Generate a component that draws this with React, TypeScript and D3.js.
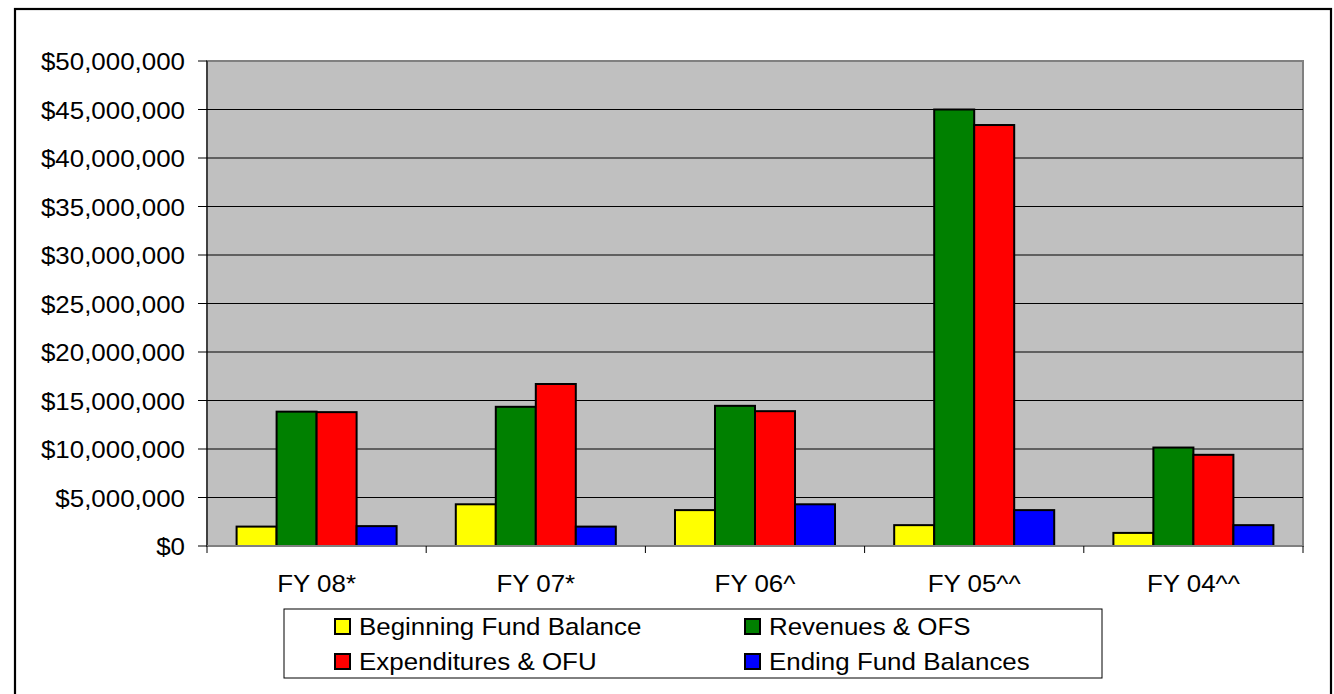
import * as d3 from 'd3'
import React from 'react'

const categories = ['FY 08*', 'FY 07*', 'FY 06^', 'FY 05^^', 'FY 04^^']
const seriesNames = ['Beginning Fund Balance', 'Revenues & OFS', 'Expenditures & OFU', 'Ending Fund Balances']
const seriesColors = ['#FFFF00', '#008000', '#FF0000', '#0000FF']
const beginning = [2000000, 4300000, 3700000, 2150000, 1350000]
const revenues = [13850000, 14350000, 14450000, 45000000, 10150000]
const expenditures = [13800000, 16700000, 13900000, 43400000, 9400000]
const ending = [2050000, 2000000, 4300000, 3700000, 2150000]
const yTicks = [0, 5000000, 10000000, 15000000, 20000000, 25000000, 30000000, 35000000, 40000000, 45000000, 50000000]

const W = 1334, H = 694
const font = '"Liberation Sans", Arial, sans-serif'
const FS = 24
const SX = 1.08

const Label = ({ x, y, anchor, children }: { x: number, y: number, anchor: string, children: string }) => (
  <text transform={`translate(${x},${y}) scale(${SX},1)`} textAnchor={anchor}
    fontFamily={font} fontSize={FS} fill='#000'>{children}</text>
)

export default function App() {
  const
    values = [beginning, revenues, expenditures, ending],
    left = 207, right = 1303, top = 61, bottom = 546,
    x0 = d3.scaleBand<string>().domain(categories).range([left, right]).paddingInner(0.27).paddingOuter(0.135),
    x1 = d3.scaleBand<string>().domain(seriesNames).range([0, x0.bandwidth()]),
    y = d3.scaleLinear().domain([0, 50000000]).range([bottom, top]),
    step = (right - left) / categories.length,
    fmt = (v: number) => '$' + d3.format(',')(v),
    legendCols = [334, 744], legendRows = [618, 653]

  return (
    <svg width={W} height={H} style={{ position: 'absolute', left: 0, top: 0, background: '#fff' }}>
      <rect x={15} y={9} width={1316} height={H + 20} fill='#fff' stroke='#000' strokeWidth={2.2} />
      <rect x={left} y={top} width={right - left} height={bottom - top} fill='#C0C0C0' stroke='#808080' strokeWidth={2} />
      {yTicks.filter(t => t > 0 && t < 50000000).map(t => (
        <line key={t} x1={left} x2={right} y1={y(t)} y2={y(t)} stroke='#000' strokeWidth={1} />
      ))}
      {categories.map((c, i) => values.map((s, j) => (
        <rect key={c + j} x={x0(c)! + x1(seriesNames[j])!} y={y(s[i])} width={x1.bandwidth()}
          height={y(0) - y(s[i])} fill={seriesColors[j]} stroke='#000' strokeWidth={2} />
      )))}
      <line x1={left} x2={left} y1={top} y2={bottom} stroke='#000' strokeWidth={1} />
      <line x1={left} x2={right} y1={bottom} y2={bottom} stroke='#808080' strokeWidth={2} />
      {yTicks.map(t => (
        <g key={t}>
          <line x1={left - 9} x2={left} y1={y(t)} y2={y(t)} stroke='#000' strokeWidth={1} />
          <Label x={185} y={y(t) + 9} anchor='end'>{fmt(t)}</Label>
        </g>
      ))}
      {d3.range(categories.length + 1).map(i => (
        <line key={i} x1={left + i * step} x2={left + i * step} y1={bottom} y2={bottom + 7} stroke='#000' strokeWidth={1} />
      ))}
      {categories.map(c => (
        <Label key={c} x={x0(c)! + x0.bandwidth() / 2} y={592} anchor='middle'>{c}</Label>
      ))}
      <rect x={284} y={609} width={818} height={69} fill='#fff' stroke='#000' strokeWidth={1} />
      {seriesNames.map((n, j) => {
        const lx = legendCols[j % 2], ly = legendRows[Math.floor(j / 2)]
        return (
          <g key={n}>
            <rect x={lx + 1} y={ly + 1} width={15} height={15} fill={seriesColors[j]} stroke='#000' strokeWidth={2} />
            <Label x={lx + 25} y={ly + 17} anchor='start'>{n}</Label>
          </g>
        )
      })}
    </svg>
  )
}
